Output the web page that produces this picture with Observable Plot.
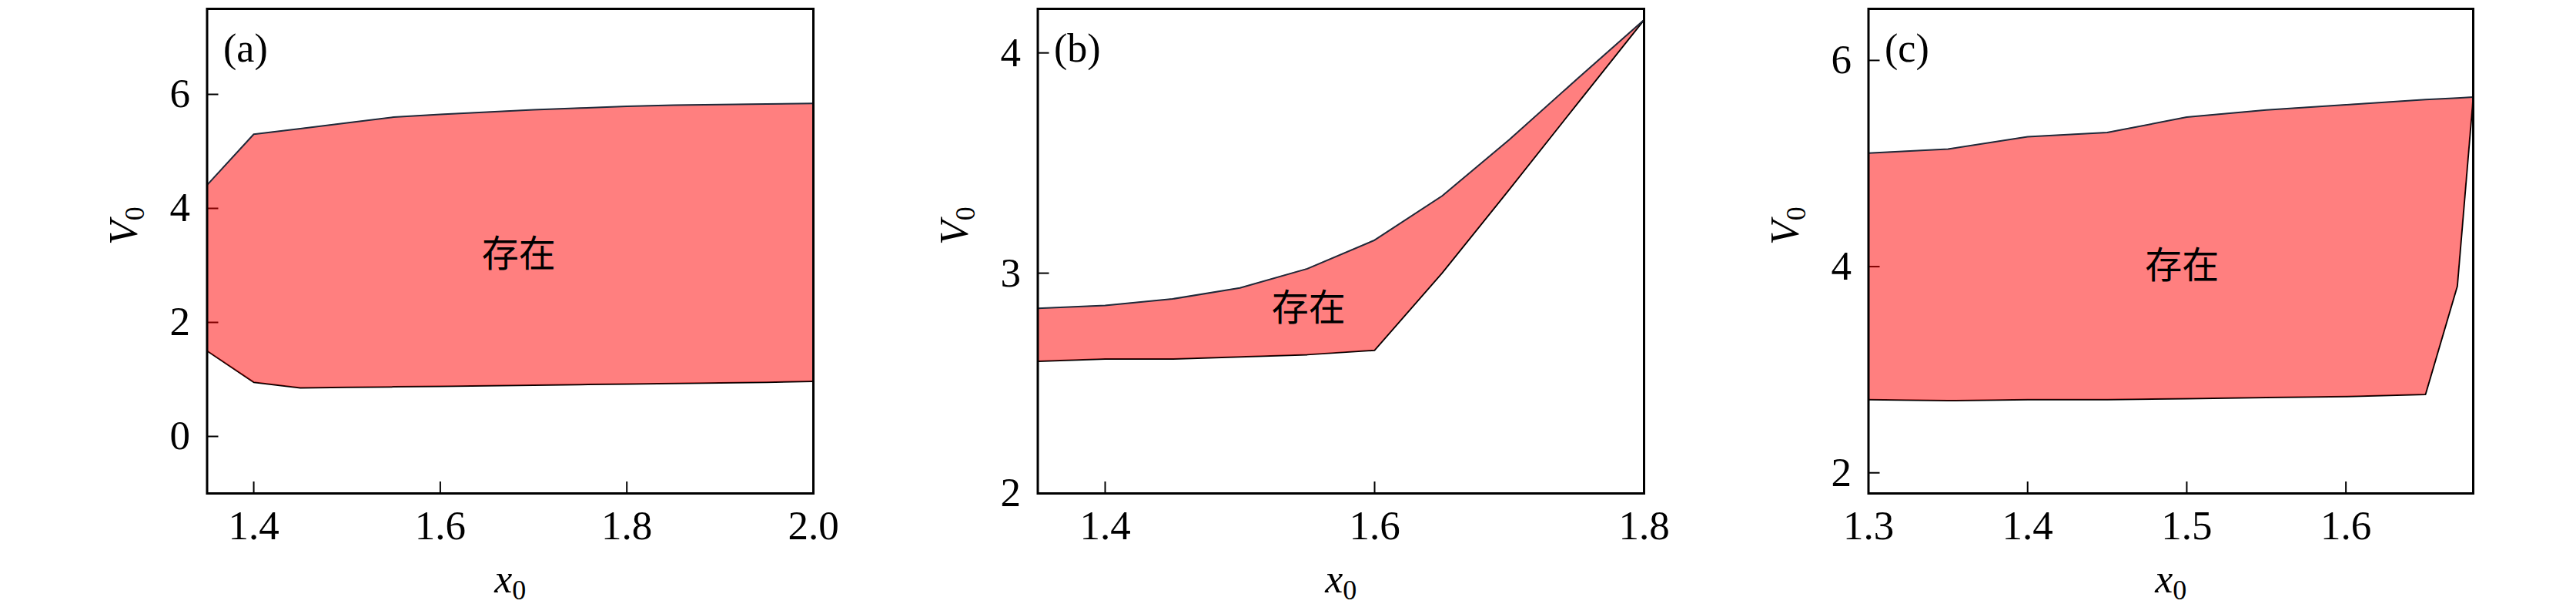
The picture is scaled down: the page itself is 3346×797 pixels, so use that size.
<!DOCTYPE html>
<html><head><meta charset="utf-8">
<script src="https://cdn.jsdelivr.net/npm/d3@7"></script>
<script src="https://cdn.jsdelivr.net/npm/@observablehq/plot@0.6"></script>
<style>
body{margin:0;background:#fff;}
#wrap{position:relative;width:3346px;height:797px;overflow:hidden;background:#fff;}
#wrap > svg{position:absolute;top:0;}
#wrap svg text{font-family:"Liberation Serif","DejaVu Serif",serif;}
#wrap svg text.cjk{font-family:"Noto Sans CJK SC",sans-serif;}
</style></head><body><div id="wrap"></div>
<script>
// ---- data ----
// panel (a)
const a_x     = [1.35, 1.40, 1.45, 1.50, 1.55, 1.60, 1.65, 1.70, 1.75, 1.80, 1.85, 1.90, 1.95, 2.00];
const a_upper = [4.41, 5.30, 5.40, 5.50, 5.60, 5.65, 5.69, 5.73, 5.76, 5.79, 5.81, 5.82, 5.83, 5.84];
const a_lower = [1.50, 0.95, 0.85, 0.86, 0.87, 0.88, 0.89, 0.90, 0.91, 0.92, 0.93, 0.94, 0.95, 0.965];
// panel (b)
const b_x     = [1.35, 1.40, 1.45, 1.50, 1.55, 1.60, 1.65, 1.70, 1.75, 1.80];
const b_upper = [2.84, 2.853, 2.883, 2.933, 3.02, 3.15, 3.35, 3.606, 3.88, 4.15];
const b_lower = [2.60, 2.61, 2.61, 2.62, 2.63, 2.65, 3.00, 3.38, 3.766, 4.15];
// panel (c)
const c_x     = [1.30, 1.35, 1.40, 1.45, 1.50, 1.55, 1.60, 1.65, 1.67, 1.68];
const c_upper = [5.10, 5.14, 5.26, 5.30, 5.45, 5.52, 5.57, 5.62, 5.635, 5.645];
const c_lower = [2.71, 2.70, 2.71, 2.71, 2.72, 2.73, 2.74, 2.76, 3.81, 5.645];

// tick values
const a_xTicks = [1.4, 1.6, 1.8, 2.0], a_yTicks = [0, 2, 4, 6];
const b_xTicks = [1.4, 1.6, 1.8],      b_yTicks = [2, 3, 4];
const c_xTicks = [1.3, 1.4, 1.5, 1.6], c_yTicks = [2, 4, 6];

// labels
const panelTags = ["(a)", "(b)", "(c)"];
const regionText = "存在";
const xLabel = "x0", yLabel = "V0";
// annotation anchor positions (data coordinates)
const a_note = [1.684, 3.19], b_note = [1.551, 2.839], c_note = [1.497, 4.0];

// ---- layout options ----
const H = 797, MT = 11, MB = 157;
const panels = [
  {tag: panelTags[0], xs: a_x, hi: a_upper, lo: a_lower, xd: [1.35, 2.0], yd: [-1, 7.5], xt: a_xTicks, yt: a_yTicks, note: a_note, left: 0,    ml: 268.5, fw: 787.5, mr: 34},
  {tag: panelTags[1], xs: b_x, hi: b_upper, lo: b_lower, xd: [1.35, 1.8], yd: [2, 4.2],  xt: b_xTicks, yt: b_yTicks, note: b_note, left: 1090, ml: 257.5, fw: 787.5, mr: 35},
  {tag: panelTags[2], xs: c_x, hi: c_upper, lo: c_lower, xd: [1.3, 1.68], yd: [1.8, 6.5], xt: c_xTicks, yt: c_yTicks, note: c_note, left: 2170, ml: 256.5, fw: 785.5, mr: 40}
];

const serif = "Liberation Serif";
const wrap = document.getElementById("wrap");

for (const p of panels) {
  const rows = p.xs.map((x, i) => ({x, lo: p.lo[i], hi: p.hi[i]}));
  const W = p.ml + p.fw + p.mr;
  const svg = Plot.plot({
    width: W, height: H,
    marginLeft: p.ml, marginRight: p.mr, marginTop: MT, marginBottom: MB,
    style: {fontFamily: serif, background: "transparent", overflow: "visible"},
    x: {domain: p.xd},
    y: {domain: p.yd},
    marks: [
      Plot.axisX(p.xt, {tickSize: -15, tickPadding: 37, tickFormat: d3.format(".1f"), fontSize: 53, strokeWidth: 2, label: null, stroke: "black", fill: "black"}),
      Plot.axisY(p.yt, {tickSize: -15, tickPadding: 37, tickFormat: d3.format("d"), fontSize: 53, strokeWidth: 2, label: null, stroke: "black", fill: "black"}),
      Plot.lineY(rows, {x: "x", y: "lo", stroke: "black", strokeWidth: 2}),
      Plot.areaY(rows, {x: "x", y1: "lo", y2: "hi", fill: "red", fillOpacity: 0.5}),
      Plot.lineY(rows, {x: "x", y: "hi", stroke: "#1e2a3a", strokeWidth: 2}),
      Plot.frame({stroke: "black", strokeWidth: 3}),
      Plot.text([p.tag], {frameAnchor: "top-left", text: d => d, textAnchor: "start", lineAnchor: "top", dx: 21, dy: 32, fontSize: 52}),
      Plot.text([regionText], {x: () => p.note[0], y: () => p.note[1], text: d => d, fontSize: 48, fill: "black"}),
      Plot.text([xLabel], {frameAnchor: "bottom", text: d => d, lineAnchor: "middle", dy: 112, fontSize: 52}),
      Plot.text([yLabel], {frameAnchor: "left", text: d => d, lineAnchor: "middle", rotate: -90, dx: -108, dy: -8, fontSize: 52})
    ]
  });
  svg.style.left = p.left + "px";
  svg.style.maxWidth = "none";
  const ns = "http://www.w3.org/2000/svg";
  svg.querySelectorAll("text").forEach(t => {
    const s = t.textContent;
    if (s === regionText) t.setAttribute("class", "cjk");
    if (s === xLabel || s === yLabel) {
      // italic variable with upright subscript
      t.textContent = "";
      const a = document.createElementNS(ns, "tspan");
      a.setAttribute("font-style", "italic");
      a.textContent = s[0];
      const b = document.createElementNS(ns, "tspan");
      b.setAttribute("font-size", "36");
      b.setAttribute("dy", "9");
      b.textContent = s[1];
      t.appendChild(a); t.appendChild(b);
    }
  });
  wrap.appendChild(svg);
}
</script></body></html>
